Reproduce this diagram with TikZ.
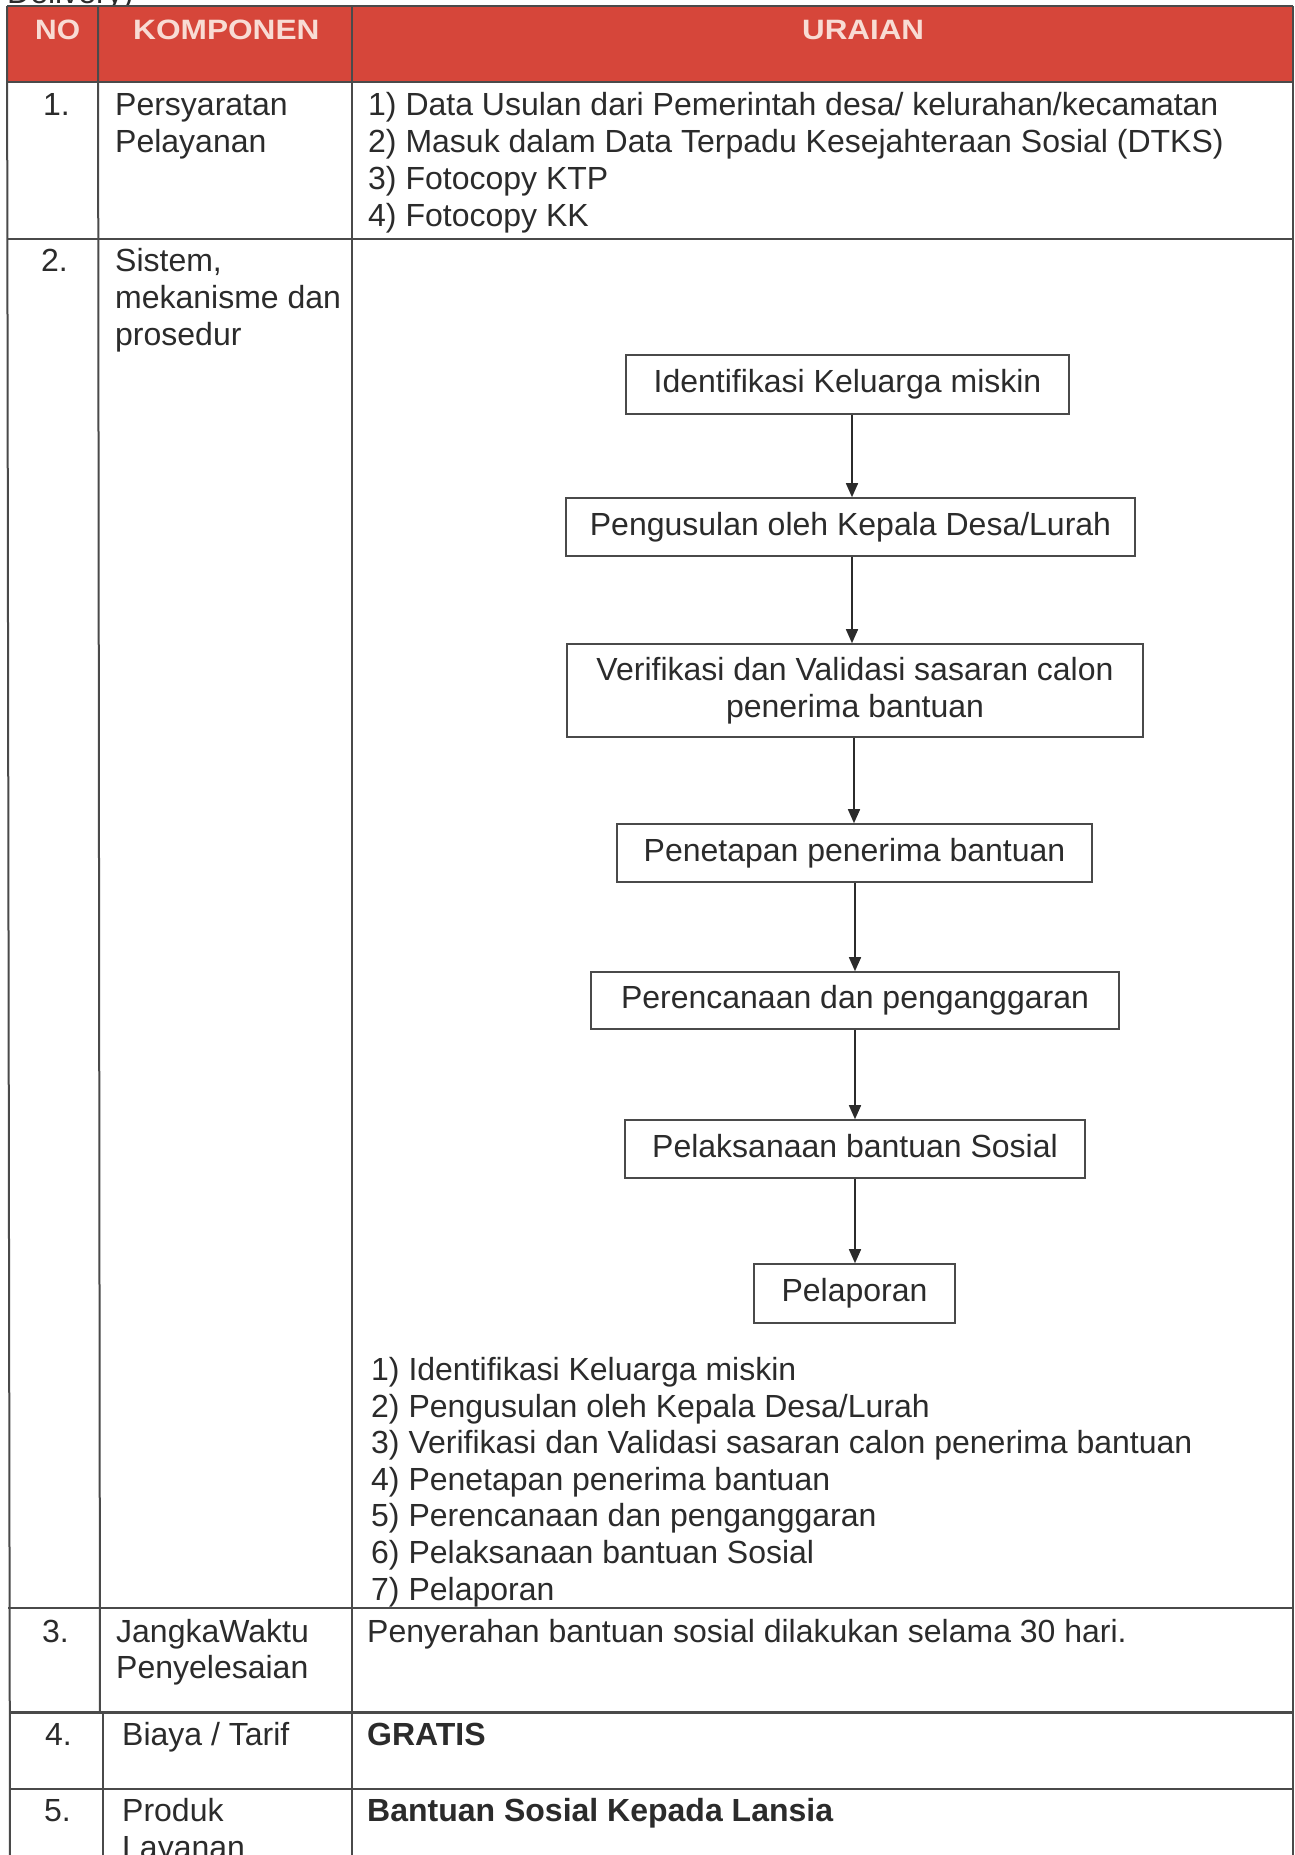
\documentclass[tikz,border=0pt]{standalone}
\usepackage{fontspec}
\setmainfont{Liberation Sans}
\usetikzlibrary{arrows.meta}
\definecolor{hdrred}{HTML}{D6463A}
\definecolor{hdrtxt}{HTML}{F8DCD4}
\definecolor{rulec}{HTML}{4A4A4A}
\definecolor{ink}{HTML}{2B2B2B}
\begin{document}
\begin{tikzpicture}[x=1pt,y=-1pt,
  txt/.style={anchor=base west, inner sep=0pt, font=\fontsize{32}{36.7}\selectfont, text=ink},
  btxt/.style={txt, font=\fontsize{32}{36.7}\selectfont\bfseries},
  hdr/.style={anchor=base west, inner sep=0pt, font=\fontsize{28}{32}\selectfont\bfseries, text=hdrtxt},
  tline/.style={draw=rulec, line width=2pt},
  flowbox/.style={draw=rulec, line width=1.6pt, inner sep=0pt, font=\fontsize{32}{36.7}\selectfont, text=ink, text height=23pt, text depth=6.7pt},
  flowbox2/.style={draw=rulec, line width=1.6pt, inner sep=0pt, font=\fontsize{32}{36.7}\selectfont, text=ink, align=center},
  flowarrow/.style={draw=ink, line width=1.5pt, -{Triangle[width=12pt,length=14pt]}}]
\useasboundingbox (0,0) rectangle (1295,1855);
\fill[white] (0,0) rectangle (1295,1855);
\clip (0,0) rectangle (1295,1855);

% cut-off heading text above the table
\node[txt] (deliv) at (7,4) {Delivery)};

% header band
\fill[hdrred] (7,6) rectangle (1293,82);

% table rules
\draw[tline] (7,6) -- (1293,6);
\draw[tline] (7,82) -- (1293,82);
\draw[tline] (7,239) -- (1293,239);
\draw[tline] (8,1608) -- (1293,1608);
\draw[draw=rulec, line width=3pt] (9,1712) -- (1293,1712);
\draw[tline] (10,1789) -- (1293,1789);
\draw[tline] (7,6) -- (10,1855);
\draw[tline] (98,6) -- (100,1712);
\draw[tline] (103,1712) -- (103,1855);
\draw[tline] (352,6) -- (352,1855);
\draw[tline] (1293,6) -- (1293,1855);

% header texts
\node[hdr] (hno) at (35,39) {\scalebox{1.07}[1]{NO}};
\node[hdr] (hkomp) at (133,39) {\scalebox{1.13}[1]{KOMPONEN}};
\node[hdr] (hura) at (802,39) {\scalebox{1.12}[1]{URAIAN}};

% row 1
\node[txt] (n1) at (43,115) {1.};
\node[txt] (k1a) at (115,115) {Persyaratan};
\node[txt] (k1b) at (115,152) {Pelayanan};
\node[txt] (u1a) at (368,115) {1) Data Usulan dari Pemerintah desa/ kelurahan/kecamatan};
\node[txt] (u1b) at (368,152) {2) Masuk dalam Data Terpadu Kesejahteraan Sosial (DTKS)};
\node[txt] (u1c) at (368,189) {3) Fotocopy KTP};
\node[txt] (u1d) at (368,226) {4) Fotocopy KK};

% row 2
\node[txt] (n2) at (41,271) {2.};
\node[txt] (k2a) at (115,271) {Sistem,};
\node[txt] (k2b) at (115,308) {mekanisme dan};
\node[txt] (k2c) at (115,345) {prosedur};

% flowchart
\node[flowbox, minimum width=443pt, minimum height=59pt] (b1) at (847.5,384.5) {Identifikasi Keluarga miskin};
\node[flowbox, minimum width=569pt, minimum height=58pt] (b2) at (850.5,527) {Pengusulan oleh Kepala Desa/Lurah};
\node[flowbox2, minimum width=576pt, minimum height=93pt] (b3) at (855,690.5) {Verifikasi dan Validasi sasaran calon\\penerima bantuan};
\node[flowbox, minimum width=475pt, minimum height=58pt] (b4) at (854.5,853) {Penetapan penerima bantuan};
\node[flowbox, minimum width=528pt, minimum height=57pt] (b5) at (855,1000.5) {Perencanaan dan penganggaran};
\node[flowbox, minimum width=460pt, minimum height=58pt] (b6) at (855,1149) {Pelaksanaan bantuan Sosial};
\node[flowbox, minimum width=201pt, minimum height=59pt] (b7) at (854.5,1293.5) {Pelaporan};

\draw[flowarrow] ([xshift=4.5pt]b1.south) -- ([xshift=1.5pt]b2.north);
\draw[flowarrow] ([xshift=1.5pt]b2.south) -- ([xshift=-3pt]b3.north);
\draw[flowarrow] ([xshift=-1pt]b3.south) -- ([xshift=-0.5pt]b4.north);
\draw[flowarrow] ([xshift=0.5pt]b4.south) -- (b5.north);
\draw[flowarrow] (b5.south) -- (b6.north);
\draw[flowarrow] (b6.south) -- ([xshift=0.5pt]b7.north);

% row 2 list
\node[txt] (l1) at (371,1380) {1) Identifikasi Keluarga miskin};
\node[txt] (l2) at (371,1417) {2) Pengusulan oleh Kepala Desa/Lurah};
\node[txt] (l3) at (371,1453) {3) Verifikasi dan Validasi sasaran calon penerima bantuan};
\node[txt] (l4) at (371,1490) {4) Penetapan penerima bantuan};
\node[txt] (l5) at (371,1526) {5) Perencanaan dan penganggaran};
\node[txt] (l6) at (371,1563) {6) Pelaksanaan bantuan Sosial};
\node[txt] (l7) at (371,1600) {7) Pelaporan};

% row 3
\node[txt] (n3) at (42,1642) {3.};
\node[txt] (k3a) at (116,1642) {JangkaWaktu};
\node[txt] (k3b) at (116,1678) {Penyelesaian};
\node[txt] (u3) at (367,1642) {Penyerahan bantuan sosial dilakukan selama 30 hari.};

% row 4
\node[txt] (n4) at (45,1745) {4.};
\node[txt] (k4) at (122,1745) {Biaya / Tarif};
\node[btxt] (u4) at (367,1745) {GRATIS};

% row 5
\node[txt] (n5) at (44,1821) {5.};
\node[txt] (k5a) at (122,1821) {Produk};
\node[txt] (k5b) at (122,1858) {Layanan};
\node[btxt] (u5) at (367,1821) {Bantuan Sosial Kepada Lansia};
\end{tikzpicture}
\end{document}
